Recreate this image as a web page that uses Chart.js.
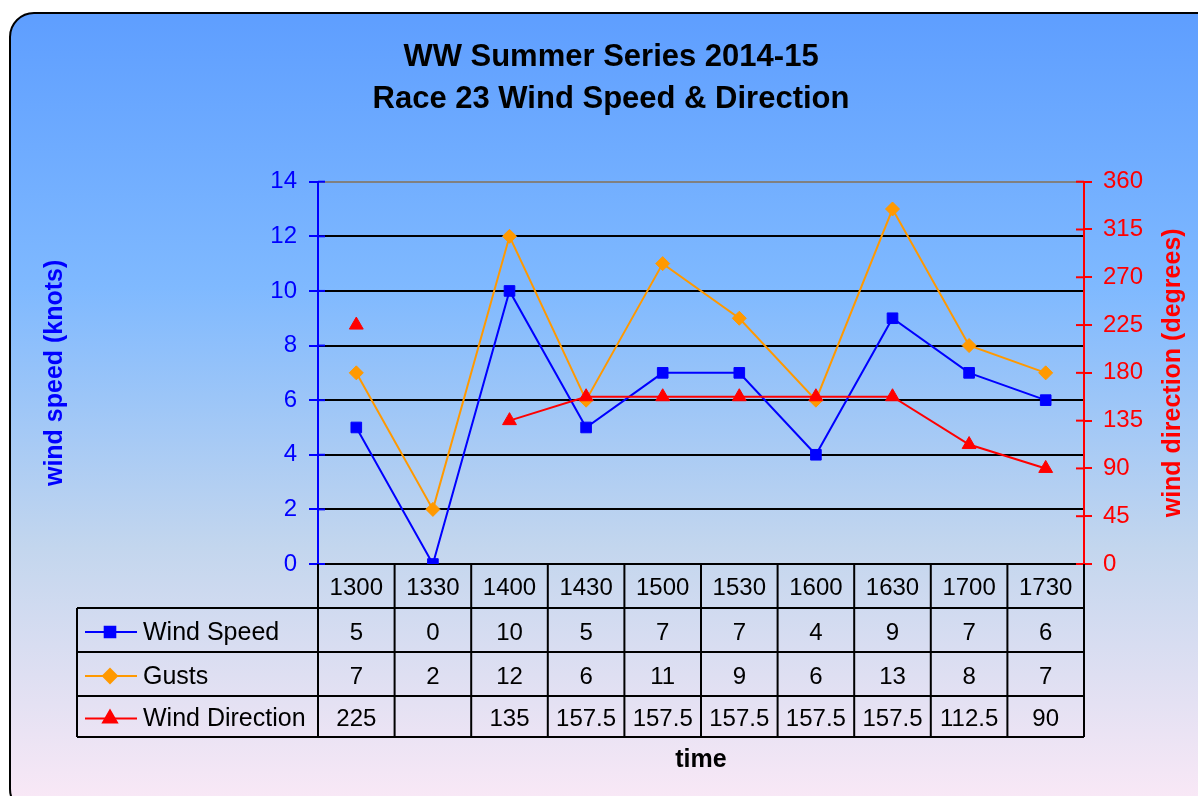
<!DOCTYPE html>
<html>
<head>
<meta charset="utf-8">
<script src="https://cdn.jsdelivr.net/npm/chart.js@4.4.1/dist/chart.umd.min.js"></script>
<style>
  html, body { margin: 0; padding: 0; background: #fff; }
</style>
</head>
<body>
<canvas id="chart" width="1198" height="796"></canvas>
<script>
const times = ['1300', '1330', '1400', '1430', '1500', '1530', '1600', '1630', '1700', '1730']
const windSpeed = [5, 0, 10, 5, 7, 7, 4, 9, 7, 6]
const gusts = [7, 2, 12, 6, 11, 9, 6, 13, 8, 7]
const windDirection = [225, null, 135, 157.5, 157.5, 157.5, 157.5, 157.5, 112.5, 90]

const FONT = 'Arial, "Liberation Sans", sans-serif'
const BLUE = '#0000ff'
const ORANGE = '#ff9900'
const RED = '#ff0000'

// rounded frame with the blue-to-pink gradient
const frame = {
  id: 'frame',
  beforeDraw(chart) {
    const ctx = chart.ctx
    ctx.save()
    ctx.fillStyle = '#fff'
    ctx.fillRect(0, 0, chart.width, chart.height)
    const g = ctx.createLinearGradient(0, 12, 0, 800)
    g.addColorStop(0, '#5e9eff')
    g.addColorStop(0.35, '#7fb9ff')
    g.addColorStop(0.68, '#c3d6ee')
    g.addColorStop(1, '#f9e8f6')
    ctx.beginPath()
    ctx.roundRect(10, 13, 1230, 800, 24)
    ctx.fillStyle = g
    ctx.fill()
    ctx.lineWidth = 2
    ctx.strokeStyle = '#000'
    ctx.stroke()
    ctx.restore()
  }
}

// inner halves of the axis ticks, right axis title (reads upward) and the data table
const dataTable = {
  id: 'dataTable',
  afterDraw(chart) {
    const ctx = chart.ctx
    const area = chart.chartArea
    const xs = chart.scales.x
    const ys = chart.scales.y
    const y2 = chart.scales.y2

    ctx.save()
    ctx.lineWidth = 2
    ctx.strokeStyle = BLUE
    ys.ticks.forEach((t, i) => {
      const y = ys.getPixelForTick(i)
      ctx.beginPath(); ctx.moveTo(area.left, y); ctx.lineTo(area.left + 7, y); ctx.stroke()
    })
    ctx.strokeStyle = RED
    y2.ticks.forEach((t, i) => {
      const y = y2.getPixelForTick(i)
      ctx.beginPath(); ctx.moveTo(area.right, y); ctx.lineTo(area.right - 8, y); ctx.stroke()
    })

    ctx.save()
    ctx.translate(y2.right - 13, (area.top + area.bottom) / 2)
    ctx.rotate(-Math.PI / 2)
    ctx.font = 'bold 25px ' + FONT
    ctx.fillStyle = RED
    ctx.textAlign = 'center'
    ctx.textBaseline = 'middle'
    ctx.fillText('wind direction (degrees)', 0, 0)
    ctx.restore()

    const n = times.length
    const colW = (area.right - area.left) / n
    const left = 77
    const rows = [area.bottom, area.bottom + 44, area.bottom + 88, area.bottom + 132, area.bottom + 173]

    ctx.strokeStyle = '#000'
    ctx.beginPath()
    for (let r = 1; r < rows.length; r++) {
      ctx.moveTo(left, rows[r]); ctx.lineTo(area.right, rows[r])
    }
    ctx.moveTo(left, rows[1]); ctx.lineTo(left, rows[4])
    for (let i = 0; i <= n; i++) {
      const x = area.left + i * colW
      ctx.moveTo(x, rows[0]); ctx.lineTo(x, rows[4])
    }
    ctx.stroke()

    ctx.font = '24px ' + FONT
    ctx.fillStyle = '#000'
    ctx.textAlign = 'center'
    ctx.textBaseline = 'middle'
    times.forEach((t, i) => {
      ctx.fillText(t, xs.getPixelForValue(i), (rows[0] + rows[1]) / 2 + 2)
    })

    chart.data.datasets.forEach((ds, r) => {
      const cy = (rows[r + 1] + rows[r + 2]) / 2 + 3
      ctx.strokeStyle = ds.borderColor
      ctx.lineWidth = 2
      ctx.beginPath(); ctx.moveTo(left + 8, cy - 1); ctx.lineTo(left + 60, cy - 1); ctx.stroke()
      ctx.fillStyle = ds.backgroundColor
      Chart.helpers.drawPoint(ctx, { pointStyle: ds.pointStyle, radius: ds.pointRadius, rotation: 0, borderWidth: 1 }, left + 33, cy - 1)
      ctx.fillStyle = '#000'
      ctx.textAlign = 'left'
      ctx.font = '25px ' + FONT
      ctx.fillText(ds.label, left + 66, cy)
      ctx.textAlign = 'center'
      ctx.font = '24px ' + FONT
      ds.data.forEach((v, i) => {
        if (v !== null) ctx.fillText(String(v), xs.getPixelForValue(i), cy)
      })
    })
    ctx.restore()
  }
}

new Chart(document.getElementById('chart'), {
  type: 'line',
  data: {
    labels: times,
    datasets: [
      {
        label: 'Wind Speed',
        data: windSpeed,
        yAxisID: 'y',
        borderColor: BLUE,
        backgroundColor: BLUE,
        borderWidth: 2,
        pointStyle: 'rect',
        pointRadius: 7.5,
        pointBorderWidth: 1,
        tension: 0,
        order: 1
      },
      {
        label: 'Gusts',
        data: gusts,
        yAxisID: 'y',
        borderColor: ORANGE,
        backgroundColor: ORANGE,
        borderWidth: 2,
        pointStyle: 'rectRot',
        pointRadius: 7,
        pointBorderWidth: 1,
        tension: 0,
        order: 2
      },
      {
        label: 'Wind Direction',
        data: windDirection,
        yAxisID: 'y2',
        borderColor: RED,
        backgroundColor: RED,
        borderWidth: 2,
        pointStyle: 'triangle',
        pointRadius: 8,
        pointBorderWidth: 1,
        tension: 0,
        spanGaps: false,
        order: 0
      }
    ]
  },
  plugins: [frame, dataTable],
  options: {
    responsive: false,
    animation: false,
    devicePixelRatio: 1,
    layout: {
      padding: { top: 0, left: 36, right: 12, bottom: 17 }
    },
    plugins: {
      legend: { display: false },
      tooltip: { enabled: false },
      title: {
        display: true,
        text: ['WW Summer Series 2014-15', 'Race 23 Wind Speed & Direction'],
        color: '#000',
        font: { family: FONT, size: 31, weight: 'bold', lineHeight: 1.35 },
        padding: { top: 37, bottom: 61 }
      }
    },
    scales: {
      x: {
        type: 'category',
        offset: true,
        grid: { display: false },
        border: { display: false },
        ticks: { display: false },
        title: {
          display: true,
          text: 'time',
          color: '#000',
          font: { family: FONT, size: 25, weight: 'bold' }
        },
        afterFit: (scale) => { scale.height = 215 }
      },
      y: {
        position: 'left',
        min: 0,
        max: 14,
        ticks: {
          stepSize: 2,
          color: BLUE,
          padding: 12,
          font: { family: FONT, size: 24 }
        },
        grid: {
          color: (c) => c.tick && c.tick.value === 14 ? '#808080' : '#000',
          lineWidth: 2,
          tickColor: BLUE,
          tickLength: 9
        },
        border: { color: BLUE, width: 2 },
        title: {
          display: true,
          text: 'wind speed (knots)',
          color: BLUE,
          font: { family: FONT, size: 25, weight: 'bold' }
        },
        afterFit: (scale) => { scale.width = 282 }
      },
      y2: {
        position: 'right',
        min: 0,
        max: 360,
        ticks: {
          stepSize: 45,
          color: RED,
          padding: 11,
          font: { family: FONT, size: 24 }
        },
        grid: {
          drawOnChartArea: false,
          tickColor: RED,
          tickLength: 8,
          lineWidth: 2
        },
        border: { color: RED, width: 2 },
        title: { display: false },
        afterFit: (scale) => { scale.width = 102 }
      }
    }
  }
})
</script>
</body>
</html>
